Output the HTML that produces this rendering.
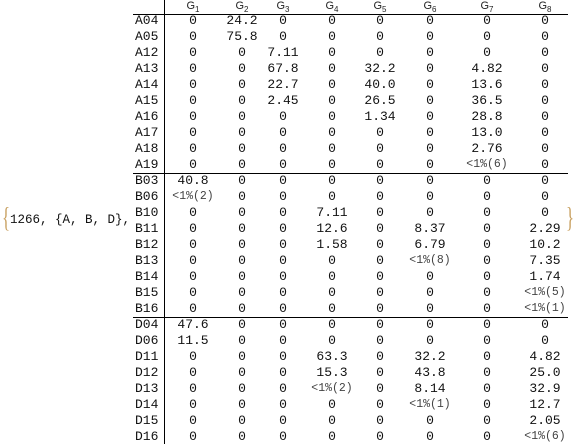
<!DOCTYPE html>
<html><head><meta charset="utf-8"><style>
html,body{margin:0;padding:0;background:#fff;}
#root{position:relative;width:576px;height:444px;overflow:hidden;font-family:"Liberation Mono",monospace;font-size:13px;color:#111;}
.t{position:absolute;white-space:nowrap;line-height:16px;}
.c{transform:translateX(-50%);}
.small{font-size:11.5px;color:#444;}
.hdr{font-family:"Liberation Sans",sans-serif;font-size:11px;color:#222;}
.hdr sub{font-size:8px;}
.ln{position:absolute;background:#000;}
.brace{position:absolute;font-family:"Liberation Serif",serif;color:#c8a060;}
</style></head><body>
<div id="root">
  <span class="brace" style="left:2px;top:204px;font-size:28px;line-height:30px;transform:scaleX(0.6);transform-origin:left">{</span>
  <span class="t" style="left:10px;top:212px;font-size:12.5px">1266, {A, B, D},</span>
  <span class="brace" style="left:566px;top:204px;font-size:28px;line-height:30px;transform:scaleX(0.6);transform-origin:left">}</span>
  <div class="ln" style="left:164px;top:0;width:1px;height:444px"></div>
  <div class="ln" style="left:133px;top:14px;width:435px;height:1px"></div>
  <div class="ln" style="left:133px;top:173px;width:435px;height:1px"></div>
  <div class="ln" style="left:133px;top:317px;width:435px;height:1px"></div>
</div>
<script>
const columns=["G1","G2","G3","G4","G5","G6","G7","G8"];
const rowLabels=["A04","A05","A12","A13","A14","A15","A16","A17","A18","A19","B03","B06","B10","B11","B12","B13","B14","B15","B16","D04","D06","D11","D12","D13","D14","D15","D16"];
const g1=["0","0","0","0","0","0","0","0","0","0","40.8","<1%(2)","0","0","0","0","0","0","0","47.6","11.5","0","0","0","0","0","0"];
const g2=["24.2","75.8","0","0","0","0","0","0","0","0","0","0","0","0","0","0","0","0","0","0","0","0","0","0","0","0","0"];
const g3=["0","0","7.11","67.8","22.7","2.45","0","0","0","0","0","0","0","0","0","0","0","0","0","0","0","0","0","0","0","0","0"];
const g4=["0","0","0","0","0","0","0","0","0","0","0","0","7.11","12.6","1.58","0","0","0","0","0","0","63.3","15.3","<1%(2)","0","0","0"];
const g5=["0","0","0","32.2","40.0","26.5","1.34","0","0","0","0","0","0","0","0","0","0","0","0","0","0","0","0","0","0","0","0"];
const g6=["0","0","0","0","0","0","0","0","0","0","0","0","0","8.37","6.79","<1%(8)","0","0","0","0","0","32.2","43.8","8.14","<1%(1)","0","0"];
const g7=["0","0","0","4.82","13.6","36.5","28.8","13.0","2.76","<1%(6)","0","0","0","0","0","0","0","0","0","0","0","0","0","0","0","0","0"];
const g8=["0","0","0","0","0","0","0","0","0","0","0","0","0","2.29","10.2","7.35","1.74","<1%(5)","<1%(1)","0","0","4.82","25.0","32.9","12.7","2.05","<1%(6)"];
const series=[g1,g2,g3,g4,g5,g6,g7,g8];
const colX=[193,242,283,332,380,430,487,545];
const root=document.getElementById('root');
const rowY=i=>13+i*16;
columns.forEach((c,j)=>{
  const s=document.createElement('span');
  s.className='t c hdr';
  s.style.left=colX[j]+'px';s.style.top='-2px';
  s.innerHTML='G<sub>'+c.slice(1)+'</sub>';
  
  
  root.appendChild(s);
});
rowLabels.forEach((r,i)=>{
  const s=document.createElement('span');
  s.className='t';
  s.style.left='135px';s.style.top=rowY(i)+'px';
  s.textContent=r;
  
  
  root.appendChild(s);
  series.forEach((col,j)=>{
    const v=col[i];
    const d=document.createElement('span');
    d.className='t c'+(v.startsWith('<')?' small':'');
    d.style.left=colX[j]+'px';d.style.top=rowY(i)+'px';
    d.textContent=v;
    
    
    root.appendChild(d);
  });
});
</script>
</body></html>
